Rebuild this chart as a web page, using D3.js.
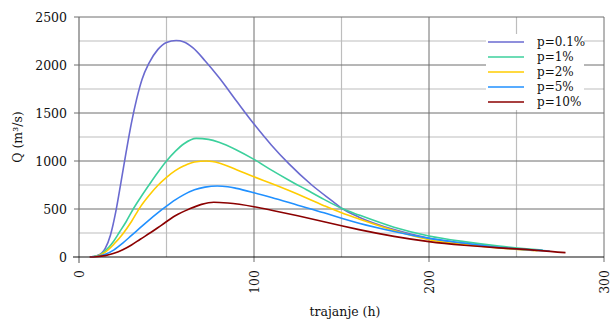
<!DOCTYPE html>
<html>
<head>
<meta charset="utf-8">
<script src="https://cdnjs.cloudflare.com/ajax/libs/d3/7.8.5/d3.min.js"></script>
<style>
  body { margin: 0; background: #fff; }
  svg { display: block; font-family: "DejaVu Serif", serif; }
</style>
</head>
<body>
<script>
// series data: trajanje (h) / Q (m3/s)
var labels = ["p=0.1%", "p=1%", "p=2%", "p=5%", "p=10%"];
var colors = ["#6a6ad0", "#3cd09c", "#ffcc00", "#2090ff", "#8b0000"];

var t01 = [6, 10, 13, 15, 18, 21, 24, 27, 30, 33, 36, 40, 45, 50, 55.5, 60, 65, 72, 80, 90, 100, 110, 120, 133, 145, 150, 160, 180, 200, 220, 240, 260];
var q01 = [0, 12, 40, 90, 230, 470, 780, 1100, 1400, 1650, 1850, 2020, 2160, 2235, 2255, 2240, 2180, 2045, 1870, 1625, 1385, 1165, 970, 750, 580, 510, 415, 285, 195, 140, 98, 68];

var t1 = [6, 10, 13, 17, 20, 23, 27, 31, 35, 40, 45, 50, 55, 60, 67, 74, 80, 90, 100, 110, 120, 130, 140, 150, 160, 180, 200, 220, 240, 265];
var q1 = [0, 10, 35, 100, 170, 255, 370, 500, 615, 750, 880, 1000, 1100, 1180, 1236, 1225, 1195, 1115, 1017, 905, 800, 700, 600, 507, 437, 310, 219, 160, 114, 72];

var t2 = [6, 10, 15, 20, 25, 30, 35, 40, 45, 50, 55, 60, 66, 73, 80, 90, 100, 110, 120, 130, 140, 150, 160, 180, 200, 220, 240, 262];
var q2 = [0, 8, 50, 135, 240, 370, 520, 640, 745, 830, 900, 950, 990, 1000, 980, 910, 835, 765, 692, 615, 535, 460, 396, 275, 180, 130, 95, 66];

var t5 = [6, 10, 15, 20, 25, 30, 35, 40, 45, 50, 55, 60, 66, 72, 79, 85, 90, 100, 110, 125, 140, 150, 160, 180, 200, 220, 240, 250, 269];
var q5 = [0, 5, 28, 75, 145, 225, 305, 385, 460, 530, 595, 650, 700, 728, 740, 732, 715, 670, 620, 540, 460, 403, 351, 265, 194, 145, 100, 85, 62];

var t10 = [6, 10, 15, 20, 25, 30, 35, 41, 47, 55, 63, 70, 77, 85, 100, 112, 125, 140, 150, 160, 180, 200, 220, 240, 250, 278];
var q10 = [0, 3, 14, 38, 75, 125, 185, 255, 330, 430, 500, 548, 570, 562, 524, 480, 430, 368, 325, 285, 215, 160, 122, 95, 85, 45];

var xTicks = [0, 100, 200, 300];
var xMinor = [50, 150, 250];
var yTicks = [0, 500, 1000, 1500, 2000, 2500];
var yMinor = [250, 750, 1250, 1750, 2250];

var series = [[t01, q01], [t1, q1], [t2, q2], [t5, q5], [t10, q10]].map(function (s, i) {
  return { name: labels[i], color: colors[i], pts: s[0].map(function (t, j) { return [t, s[1][j]]; }) };
});

var width = 611, height = 320;
var x = d3.scaleLinear().domain([0, 300]).range([79, 604]);
var y = d3.scaleLinear().domain([0, 2500]).range([257, 17]);

var svg = d3.select("body").append("svg")
    .attr("width", width)
    .attr("height", height);

// minor grid
svg.append("g").selectAll("line").data(yMinor).enter().append("line")
    .attr("x1", x(0)).attr("x2", x(300))
    .attr("y1", function (d) { return y(d); }).attr("y2", function (d) { return y(d); })
    .style("stroke", "#bdbdbd").style("stroke-width", 1.2);
svg.append("g").selectAll("line").data(xMinor).enter().append("line")
    .attr("x1", function (d) { return x(d); }).attr("x2", function (d) { return x(d); })
    .attr("y1", y(0)).attr("y2", y(2500))
    .style("stroke", "#bdbdbd").style("stroke-width", 1.2);

// major grid
svg.append("g").selectAll("line").data(yTicks.slice(1)).enter().append("line")
    .attr("x1", x(0) - 5).attr("x2", x(300))
    .attr("y1", function (d) { return y(d); }).attr("y2", function (d) { return y(d); })
    .style("stroke", "#6e6e6e").style("stroke-width", 1);
svg.append("g").selectAll("line").data(xTicks.slice(1)).enter().append("line")
    .attr("x1", function (d) { return x(d); }).attr("x2", function (d) { return x(d); })
    .attr("y1", y(0) + 5).attr("y2", y(2500))
    .style("stroke", "#6e6e6e").style("stroke-width", 1);

// axes lines
svg.append("line")
    .attr("x1", x(0)).attr("x2", x(0)).attr("y1", y(2500)).attr("y2", y(0) + 6)
    .style("stroke", "#6e6e6e").style("stroke-width", 1.2);
svg.append("line")
    .attr("x1", x(0) - 6).attr("x2", x(300)).attr("y1", y(0)).attr("y2", y(0))
    .style("stroke", "#111").style("stroke-width", 1.2);

// tick labels
svg.append("g").selectAll("text").data(yTicks).enter().append("text")
    .attr("x", 67)
    .attr("y", function (d) { return y(d); })
    .attr("dy", "0.36em")
    .attr("text-anchor", "end")
    .style("font-size", "12.5px")
    .style("fill", "#111")
    .text(function (d) { return d; });

svg.append("g").selectAll("text").data(xTicks).enter().append("text")
    .attr("transform", function (d) { return "translate(" + x(d) + ",270) rotate(-90)"; })
    .attr("dy", "0.36em")
    .attr("text-anchor", "end")
    .style("font-size", "12.5px")
    .style("fill", "#111")
    .text(function (d) { return d; });

// axis titles
svg.append("text")
    .attr("x", 345).attr("y", 316)
    .attr("text-anchor", "middle")
    .style("font-size", "12.5px")
    .style("fill", "#111")
    .text("trajanje (h)");

svg.append("text")
    .attr("transform", "translate(22,137) rotate(-90)")
    .attr("text-anchor", "middle")
    .style("font-size", "12.5px")
    .style("fill", "#111")
    .text("Q (m³/s)");

// curves
var line = d3.line()
    .x(function (d) { return x(d[0]); })
    .y(function (d) { return y(d[1]); })
    .curve(d3.curveMonotoneX);

svg.append("g").selectAll("path").data(series).enter().append("path")
    .attr("d", function (d) { return line(d.pts); })
    .style("fill", "none")
    .style("stroke", function (d) { return d.color; })
    .style("stroke-width", 1.6);

// legend
var leg = svg.append("g");
leg.append("rect")
    .attr("x", 486).attr("y", 34).attr("width", 98).attr("height", 76)
    .style("fill", "#fff");
var item = leg.selectAll("g").data(series).enter().append("g")
    .attr("transform", function (d, i) { return "translate(0," + (42 + i * 15) + ")"; });
item.append("line")
    .attr("x1", 488).attr("x2", 524).attr("y1", 0).attr("y2", 0)
    .style("stroke", function (d) { return d.color; })
    .style("stroke-width", 1.6);
item.append("text")
    .attr("x", 537).attr("dy", "0.36em")
    .style("font-size", "12px")
    .style("fill", "#111")
    .text(function (d) { return d.name; });
</script>
</body>
</html>
